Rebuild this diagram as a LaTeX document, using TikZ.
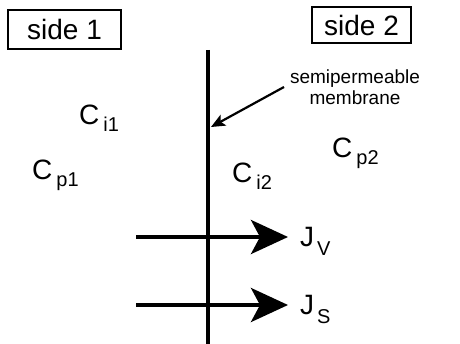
\documentclass[tikz,border=0pt]{standalone}
\usepackage{fontspec}
\setmainfont{Liberation Sans}
\usetikzlibrary{arrows.meta}
\newcommand{\conc}[1]{C\hspace{4pt}\raisebox{-7pt}{\fontsize{20}{20}\selectfont #1}}
\tikzset{
  sidebox/.style={draw, line width=1.4pt, font=\fontsize{28}{28}\selectfont, inner sep=0pt},
  conclabel/.style={font=\fontsize{28}{28}\selectfont, inner sep=0pt, anchor=base west},
  flux/.style={line width=4pt, -{Stealth[length=37pt, width=34pt, inset=9pt]}},
  note/.style={font=\fontsize{19}{21}\selectfont, align=center, inner sep=0pt}
}
\begin{document}
\begin{tikzpicture}[x=1pt,y=-1pt]
\useasboundingbox (0,0) rectangle (460,344);
\node[sidebox, minimum width=113pt, minimum height=39pt] (s1) at (64.5,29.5) {side 1};
\node[sidebox, minimum width=99pt, minimum height=36pt] (s2) at (361.5,25) {side 2};
\coordinate (mtop) at (208,50);
\coordinate (mbot) at (208,344);
\draw[line width=3.8pt] (mtop) -- (mbot);
\node[note] (semi) at (355,87) {semipermeable\\membrane};
\coordinate (astart) at (284,87);
\coordinate (atip) at (211,127);
\draw[line width=2.2pt, -{Stealth[length=14pt, width=12pt, inset=3pt]}] (astart) -- (atip);
\node[conclabel] (ci1) at (79,125) {\conc{i1}};
\node[conclabel] (cp1) at (32,180) {\conc{p1}};
\node[conclabel] (ci2) at (232,183) {\conc{i2}};
\node[conclabel] (cp2) at (332,158) {\conc{p2}};
\coordinate (jvs) at (136,237);
\coordinate (jve) at (288,237);
\coordinate (jss) at (136,305);
\coordinate (jse) at (288,305);
\draw[flux] (jvs) -- (jve);
\draw[flux] (jss) -- (jse);
\node[conclabel] (jv) at (300,247) {J\hspace{3pt}\raisebox{-9pt}{\fontsize{20}{20}\selectfont V}};
\node[conclabel] (js) at (300,315) {J\hspace{3pt}\raisebox{-9pt}{\fontsize{20}{20}\selectfont S}};
\end{tikzpicture}
\end{document}
